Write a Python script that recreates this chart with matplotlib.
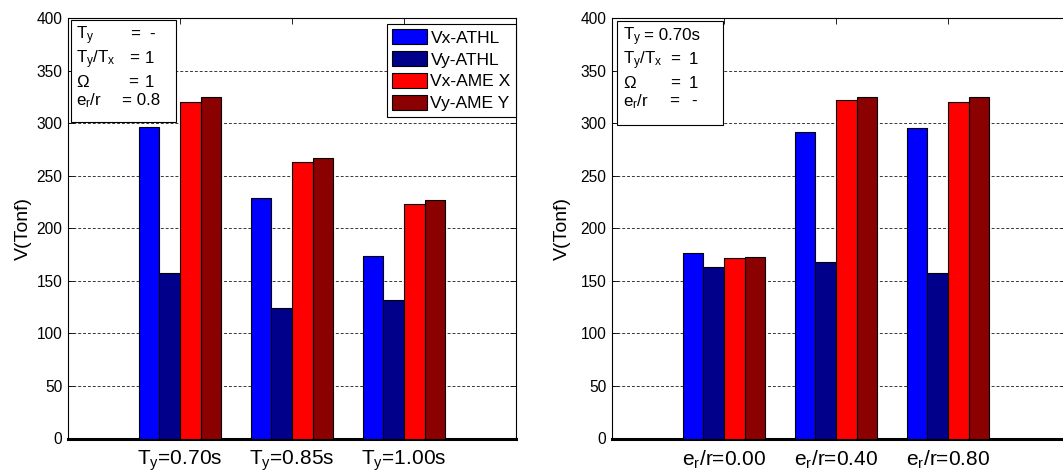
import matplotlib
matplotlib.use("Agg")
import matplotlib.pyplot as plt
from matplotlib.patches import Rectangle
import numpy as np

plt.rcParams['font.family'] = ['Liberation Sans', 'DejaVu Sans']
plt.rcParams['mathtext.fontset'] = 'custom'
plt.rcParams['mathtext.rm'] = 'Liberation Sans'
plt.rcParams['mathtext.it'] = 'Liberation Sans'

series = ["Vx-ATHL", "Vy-ATHL", "Vx-AME X", "Vy-AME Y"]
colors = ["#0000FF", "#00008B", "#FF0000", "#8B0000"]

left_cats = [r"T$_\mathregular{y}$=0.70s", r"T$_\mathregular{y}$=0.85s", r"T$_\mathregular{y}$=1.00s"]
left_vx_athl = [296, 229, 174]
left_vy_athl = [157, 124, 132]
left_vx_ame = [320, 263, 223]
left_vy_ame = [325, 267, 227]

right_cats = [r"e$_\mathregular{r}$/r=0.00", r"e$_\mathregular{r}$/r=0.40", r"e$_\mathregular{r}$/r=0.80"]
right_vx_athl = [176, 292, 295]
right_vy_athl = [163, 168, 157]
right_vx_ame = [172, 322, 320]
right_vy_ame = [173, 325, 325]

yticks = [0, 50, 100, 150, 200, 250, 300, 350, 400]

W, H = 1063, 475
fig = plt.figure(figsize=(W / 100, H / 100), dpi=100)

def fx(px):
    return px / W

def fy(py):
    return 1 - py / H

YT_FS = 11.2
XT_FS = 15
YL_FS = 14
LEG_FS = 12.6
INFO_FS = 12.2

AX_TOP, AX_BOT = 18, 438.5

def make_axes(x0, x1, xmax, cats, data, label_right_px):
    ax = fig.add_axes([fx(x0), fy(AX_BOT), fx(x1 - x0), (AX_BOT - AX_TOP) / H])
    x = np.arange(1, len(cats) + 1)
    w = 0.184
    for i, (vals, c) in enumerate(zip(data, colors)):
        ax.bar(x + (i - 1.5) * w, vals, width=w, color=c, edgecolor='black',
               linewidth=0.8, label=series[i], zorder=3)
    ax.set_xlim(0, xmax)
    ax.set_ylim(0, 400)
    ax.set_yticks(yticks)
    ax.set_xticks(x)
    ax.set_xticklabels(cats, fontsize=XT_FS)
    ax.tick_params(axis='y', labelsize=YT_FS, direction='in', right=True, length=4, width=0.6, pad=4)
    ax.tick_params(axis='x', direction='in', top=True, length=4, width=0.6, pad=7)
    ax.yaxis.grid(True, linestyle=(0, (3, 2)), color='#383838', linewidth=0.7, zorder=0)
    ax.set_axisbelow(True)
    for s in ['left', 'top', 'right']:
        ax.spines[s].set_linewidth(0.8)
    ax.spines['bottom'].set_linewidth(2.2)
    ax.set_ylabel("V(Tonf)", fontsize=YL_FS)
    ax.yaxis.set_label_coords((label_right_px - x0) / (x1 - x0), 0.5)
    return ax

axL = make_axes(68, 516, 4.0, left_cats,
                [left_vx_athl, left_vy_athl, left_vx_ame, left_vy_ame], 32)
axR = make_axes(612, 1067, 4.0 * 455 / 448, right_cats,
                [right_vx_athl, right_vy_athl, right_vx_ame, right_vy_ame], 571)

# legend
leg = axL.legend(loc='upper right', bbox_to_anchor=(1.0, 1.0 - 6 / (AX_BOT - AX_TOP)),
                 fontsize=LEG_FS, frameon=True, fancybox=False, edgecolor='black',
                 framealpha=1, handlelength=2.0, handleheight=0.95, handletextpad=0.2,
                 labelspacing=0.3, borderpad=0.3, borderaxespad=0.0)
leg.get_frame().set_linewidth(0.8)
leg.set_zorder(10)

# info boxes
def info_box(x0, y0, x1, y1):
    r = Rectangle((fx(x0), fy(y1)), fx(x1 - x0), (y1 - y0) / H, transform=fig.transFigure,
                  facecolor='white', edgecolor='black', linewidth=0.8, zorder=5)
    fig.patches.append(r)

def t(px, py, s):
    fig.text(fx(px), fy(py), s, fontsize=INFO_FS, ha='left', va='baseline', zorder=6)

# baselines (px) of each info line
b1, b2, b3, b4 = 39, 63, 87, 105

info_box(71.3, 20, 176, 122)
t(76, b1, r"T$_\mathregular{y}$")
t(130, b1, "=")
t(149, b1, "-")
t(76, b2, r"T$_\mathregular{y}$/T$_\mathregular{x}$")
t(129, b2, "=")
t(145, b2, "1")
t(76, b3, r"$\Omega$")
t(128, b3, "=")
t(145, b3, "1")
t(76, b4, r"e$_\mathregular{r}$/r")
t(122, b4, "= 0.8")

info_box(617, 21, 723, 125)
t(623, b1 + 1, r"T$_\mathregular{y}$")
t(644, b1 + 1, "= 0.70s")
t(623, b2 + 1, r"T$_\mathregular{y}$/T$_\mathregular{x}$")
t(670, b2 + 1, "=")
t(689, b2 + 1, "1")
t(623, b3 + 1, r"$\Omega$")
t(670, b3 + 1, "=")
t(689, b3 + 1, "1")
t(623, b4 + 1, r"e$_\mathregular{r}$/r")
t(669, b4 + 1, "=")
t(691, b4 + 1, "-")

fig.savefig("out.png", dpi=100)
